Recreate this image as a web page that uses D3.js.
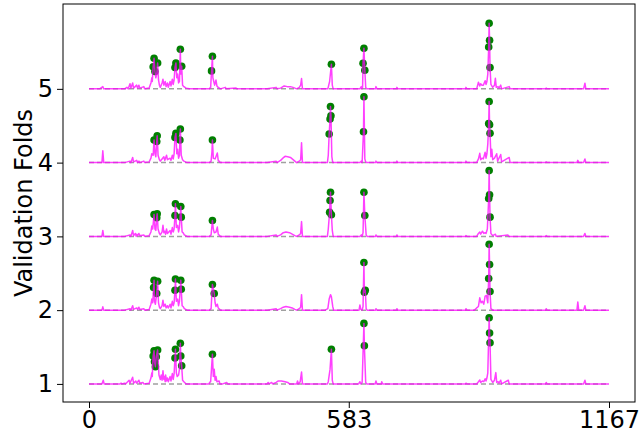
<!DOCTYPE html>
<html>
<head>
<meta charset="utf-8">
<script src="https://cdn.jsdelivr.net/npm/d3@7"></script>
<style>
  body { margin: 0; background: #fff; }
  text { font-family: "DejaVu Sans", sans-serif; }
</style>
</head>
<body>
<div id="chart"></div>
<script>
// fold numbers (y offsets) and x tick labels
const folds = [1, 2, 3, 4, 5];
const xTicks = [0, 583, 1167];
const xMax = 1167;

// line vertices per fold: [index, height above fold baseline]
const fold1Line = [[0,0],[29,0],[32,0.05],[34,0],[70,0],[72,0.01],[74,0],[80,0.01],[82,0],[90,0.05],[92,0.01],[98,0.09],[100,0.01],[105,0.04],[107,0.01],[112,0.05],[114,0.01],[121,0.02],[123,0],[135,0.01],[139,0.08],[141,0.15],[142,0.1],[157,0.12],[160,0.06],[162,0.12],[164,0.05],[166,0.18],[168,0.06],[169,0.1],[171,0.03],[172,0.12],[174,0.04],[176,0.08],[178,0.03],[182,0.1],[184,0.04],[187,0.14],[189,0.06],[191,0.14],[196,0.15],[198,0.1],[201,0.12],[203,0.2],[210,0.05],[213,0.03],[218,0],[269,0],[271,0.02],[273,0.03],[279,0.1],[281,0.2],[283,0.05],[285,0.1],[287,0.03],[292,0.04],[294,0],[300,0],[309,0.02],[311,0],[400,0],[402,0.02],[404,0],[410,0.02],[412,0],[420,0.02],[425,0.04],[432,0.04],[440,0.03],[446,0.02],[450,0],[466,0],[468,0.04],[470,0],[474,0.03],[477,0.16],[479,0],[535,0],[537,0.03],[541,0.2],[546,0.05],[548,0],[605,0],[608,0.03],[610,0],[613,0.02],[621,0.02],[623,0],[642,0],[644,0.04],[646,0],[656,0],[657,0.03],[659,0],[845,0],[846,0.01],[848,0],[870,0],[874,0.03],[877,0.054],[879,0.02],[883,0.04],[886,0.03],[889,0.07],[891,0.04],[893,0.08],[895,0.15],[902,0.06],[906,0.02],[910,0.05],[913,0.153],[915,0.02],[918,0.03],[920,0.01],[924,0.05],[926,0],[941,0.05],[943,0],[1025,0],[1026,0.02],[1028,0],[1110,0],[1113,0.05],[1115,0],[1167,0]];
const fold1Peaks = [[144,0.378],[146,0.45],[147,0.30],[149,0.234],[151,0.369],[154,0.46],[193,0.351],[194,0.469],[205,0.55],[206,0.378],[208,0.247],[277,0.401],[544,0.469],[617,0.82],[618,0.518],[898,0.896],[899,0.689],[900,0.558]];

const fold2Line = [[0,0],[29,0],[31,0.045],[33,0],[80,0],[92,0.02],[94,0],[98,0.06],[100,0.01],[107,0.03],[109,0.01],[112,0.04],[114,0.01],[123,0.02],[125,0],[135,0.01],[139,0.08],[141,0.15],[143,0.1],[147,0.12],[149,0.08],[156,0.1],[158,0.04],[160,0.02],[164,0.06],[166,0.135],[168,0.05],[171,0.08],[173,0.03],[176,0.06],[178,0.03],[182,0.08],[184,0.03],[187,0.12],[189,0.06],[191,0.1],[196,0.12],[199,0.15],[201,0.06],[203,0.12],[209,0.06],[211,0.05],[214,0.02],[220,0],[270,0],[274,0.02],[283,0.1],[285,0.05],[288,0.08],[290,0.03],[295,0],[400,0],[420,0.02],[422,0],[430,0.02],[436,0.04],[442,0.05],[450,0.04],[456,0.03],[462,0.01],[466,0],[472,0.02],[475,0.04],[477,0.21],[479,0],[530,0],[536,0.02],[539,0.15],[542,0.21],[544,0.18],[547,0.05],[549,0],[606,0],[608,0.07],[610,0.01],[613,0],[615,0.05],[622,0.02],[624,0],[643,0],[644,0.02],[646,0],[690,0],[691,0.02],[693,0],[845,0],[846,0.02],[848,0],[865,0],[870,0.03],[874,0.05],[877,0.167],[880,0.1],[883,0.12],[886,0.08],[889,0.19],[892,0.2],[895,0.1],[902,0.02],[906,0],[1025,0],[1026,0.02],[1028,0],[1095,0],[1097,0.11],[1099,0],[1110,0],[1113,0.06],[1115,0],[1167,0]];
const fold2Peaks = [[145,0.307],[146,0.405],[152,0.226],[154,0.392],[193,0.27],[194,0.423],[206,0.405],[207,0.284],[277,0.347],[281,0.226],[617,0.645],[618,0.243],[620,0.27],[897,0.428],[898,0.892],[899,0.618],[900,0.253]];

const fold3Line = [[0,0],[29,0],[31,0.08],[33,0],[80,0],[92,0.02],[94,0],[98,0.08],[100,0.01],[104,0.04],[106,0],[107,0.03],[109,0.01],[112,0.04],[114,0.01],[123,0.02],[125,0],[135,0.01],[139,0.06],[141,0.14],[143,0.1],[148,0.1],[150,0.08],[155,0.1],[158,0.04],[160,0.02],[164,0.06],[166,0.15],[168,0.05],[170,0.07],[172,0.03],[174,0.1],[176,0.04],[182,0.08],[184,0.03],[187,0.12],[189,0.06],[191,0.1],[196,0.12],[199,0.15],[201,0.06],[203,0.12],[209,0.06],[211,0.05],[214,0.02],[220,0],[270,0],[274,0.02],[279,0.1],[281,0.05],[285,0.06],[288,0.126],[290,0.03],[295,0],[400,0],[420,0.02],[422,0],[430,0.02],[436,0.05],[442,0.06],[450,0.05],[456,0.03],[462,0.01],[466,0],[472,0.02],[475,0.04],[477,0.2],[479,0],[535,0],[537,0.1],[546,0.08],[548,0],[608,0],[611,0.02],[613,0],[615,0.05],[622,0.02],[624,0],[643,0],[644,0.02],[646,0],[690,0],[691,0.02],[693,0],[845,0],[846,0.01],[848,0],[870,0],[874,0.04],[877,0.06],[879,0.03],[883,0.07],[886,0.04],[889,0.05],[891,0.04],[894,0.1],[902,0.04],[906,0.01],[912,0.03],[914,0],[940,0.02],[942,0],[1025,0],[1026,0.01],[1028,0],[1110,0],[1113,0.04],[1115,0],[1167,0]];
const fold3Peaks = [[146,0.297],[152,0.253],[153,0.307],[193,0.284],[194,0.442],[206,0.405],[207,0.261],[277,0.216],[540,0.328],[541,0.486],[542,0.599],[544,0.293],[617,0.599],[619,0.284],[897,0.514],[898,0.892],[899,0.564],[900,0.261]];

const fold4Line = [[0,0],[29,0],[31,0.16],[33,0],[80,0],[92,0.02],[94,0],[98,0.07],[100,0.01],[107,0.03],[109,0],[112,0.02],[114,0],[123,0.02],[125,0],[135,0.01],[139,0.06],[141,0.12],[144,0.1],[148,0.12],[150,0.08],[155,0.1],[158,0.04],[160,0.02],[164,0.05],[168,0.08],[170,0.03],[174,0.1],[176,0.04],[182,0.06],[184,0.03],[187,0.1],[189,0.05],[191,0.12],[197,0.12],[199,0.18],[201,0.06],[203,0.1],[207,0.1],[210,0.04],[213,0.02],[220,0],[270,0],[274,0.02],[276,0.15],[279,0.06],[283,0.05],[288,0.13],[290,0.03],[295,0],[400,0],[420,0.02],[422,0],[430,0.03],[435,0.06],[440,0.085],[446,0.08],[452,0.07],[458,0.04],[462,0.02],[466,0],[472,0.02],[475,0.04],[477,0.27],[479,0],[535,0],[537,0.1],[545,0.08],[547,0],[608,0],[611,0.02],[613,0],[619,0.05],[621,0.01],[623,0],[643,0],[644,0.02],[646,0],[690,0],[691,0.02],[693,0],[845,0],[846,0.02],[848,0],[870,0],[874,0.05],[877,0.126],[879,0.04],[882,0.06],[885,0.05],[889,0.14],[891,0.06],[893,0.12],[895,0.25],[902,0.08],[904,0.18],[906,0.04],[910,0.06],[915,0.12],[917,0.02],[924,0.11],[926,0.01],[943,0.07],[945,0],[1025,0],[1026,0.01],[1028,0],[1095,0],[1097,0.03],[1099,0],[1110,0],[1113,0.05],[1115,0],[1167,0]];
const fold4Peaks = [[146,0.306],[152,0.287],[153,0.365],[193,0.342],[195,0.396],[204,0.306],[205,0.455],[277,0.306],[539,0.388],[541,0.59],[542,0.761],[543,0.635],[616,0.419],[617,0.892],[897,0.531],[898,0.828],[899,0.514],[900,0.397]];

const fold5Line = [[0,0],[24,0],[31,0.03],[33,0],[80,0],[85,0.02],[88,0],[92,0.07],[94,0.01],[98,0.08],[100,0.01],[107,0.05],[109,0.01],[112,0.05],[114,0.01],[123,0.03],[125,0],[135,0.01],[139,0.08],[141,0.15],[142,0.1],[150,0.15],[152,0.2],[156,0.12],[158,0.05],[160,0.02],[164,0.08],[166,0.13],[168,0.05],[171,0.1],[173,0.03],[176,0.08],[178,0.02],[182,0.1],[184,0.04],[187,0.13],[189,0.06],[191,0.12],[197,0.15],[199,0.2],[201,0.08],[203,0.1],[206,0.2],[210,0.05],[213,0.03],[218,0.01],[225,0],[270,0],[273,0.02],[278,0.15],[280,0.1],[282,0.05],[285,0.12],[287,0.04],[290,0.02],[295,0],[306,0.02],[308,0],[330,0.01],[332,0],[400,0],[420,0.02],[422,0],[430,0.01],[438,0.04],[445,0.03],[452,0.03],[458,0.02],[462,0.01],[466,0],[472,0.02],[475,0.05],[477,0.14],[479,0],[536,0],[540,0.1],[546,0.05],[548,0],[608,0],[611,0.03],[613,0],[614,0.02],[621,0.02],[623,0],[643,0],[644,0.03],[646,0],[690,0],[691,0.02],[693,0],[845,0],[846,0.02],[848,0],[870,0],[874,0.09],[877,0.04],[879,0.07],[882,0.05],[885,0.05],[889,0.11],[891,0.06],[893,0.1],[895,0.2],[902,0.06],[906,0.02],[910,0.05],[912,0.144],[914,0.02],[918,0.03],[920,0.01],[924,0.05],[926,0],[943,0.03],[945,0],[1025,0],[1026,0.01],[1028,0],[1110,0],[1113,0.077],[1115,0],[1167,0]];
const fold5Peaks = [[144,0.30],[146,0.415],[148,0.235],[154,0.35],[193,0.29],[195,0.35],[205,0.536],[208,0.307],[275,0.243],[277,0.442],[544,0.334],[615,0.347],[617,0.55],[619,0.253],[897,0.568],[898,0.888],[899,0.658],[900,0.288]];

const foldLines = [fold1Line, fold2Line, fold3Line, fold4Line, fold5Line];
const foldPeaks = [fold1Peaks, fold2Peaks, fold3Peaks, fold4Peaks, fold5Peaks];

const width = 640, height = 433;
const margin = {top: 4, right: 5, bottom: 31, left: 63};

const svg = d3.select('#chart').append('svg')
    .attr('width', width)
    .attr('height', height);

// matplotlib style 5% padding on both axes
const xPad = xMax * 0.05;
const x = d3.scaleLinear()
    .domain([-xPad, xMax + xPad])
    .range([margin.left, width - margin.right]);

const yTop = 1 + d3.max(foldPeaks[4], d => d[1]) + 4;
const yLow = 1, yHigh = 5.905;
const yPad = (yHigh - yLow) * 0.05;
const y = d3.scaleLinear()
    .domain([yLow - yPad, yHigh + yPad])
    .range([height - margin.bottom, margin.top]);

const plot = svg.append('g');

// dashed baselines
plot.selectAll('.base')
    .data(folds)
  .enter().append('line')
    .attr('class', 'base')
    .attr('x1', x(0)).attr('x2', x(xMax))
    .attr('y1', d => y(d)).attr('y2', d => y(d))
    .attr('stroke', '#a0a0a0')
    .attr('stroke-width', 1.5)
    .attr('stroke-dasharray', '5,3');

// green peak markers
folds.forEach((f, i) => {
  plot.append('g').selectAll('circle')
      .data(foldPeaks[i])
    .enter().append('circle')
      .attr('cx', d => x(d[0]))
      .attr('cy', d => y(f + d[1]))
      .attr('r', 3.8)
      .attr('fill', '#007f00');
});

// magenta signal lines, passing through the peaks too
const line = d3.line()
    .x(d => x(d[0]))
    .y(d => y(d[2] + d[1]));

folds.forEach((f, i) => {
  const pts = foldLines[i].concat(foldPeaks[i])
      .map(d => [d[0], d[1], f])
      .sort((a, b) => a[0] - b[0]);
  plot.append('path')
      .datum(pts)
      .attr('fill', 'none')
      .attr('stroke', '#ff00ff')
      .attr('stroke-opacity', 0.75)
      .attr('stroke-width', 1.5)
      .attr('stroke-linejoin', 'round')
      .attr('d', line);
});

// frame
svg.append('rect')
    .attr('x', margin.left).attr('y', margin.top)
    .attr('width', width - margin.left - margin.right)
    .attr('height', height - margin.top - margin.bottom)
    .attr('fill', 'none')
    .attr('stroke', '#000')
    .attr('stroke-width', 1);

// axes
const xAxis = svg.append('g')
    .attr('transform', 'translate(0,' + (height - margin.bottom) + ')')
    .call(d3.axisBottom(x).tickValues(xTicks).tickSize(6).tickPadding(3).tickFormat(d3.format('d')));
const yAxis = svg.append('g')
    .attr('transform', 'translate(' + margin.left + ',0)')
    .call(d3.axisLeft(y).tickValues(folds).tickSize(6).tickPadding(4).tickFormat(d3.format('d')));

[xAxis, yAxis].forEach(a => {
  a.select('.domain').remove();
  a.selectAll('.tick line').attr('stroke', '#000').attr('stroke-width', 1);
  a.selectAll('.tick text')
      .attr('fill', '#000')
      .style('font-size', '24px')
      .style('font-family', '"DejaVu Sans", sans-serif');
});

svg.append('text')
    .attr('transform', 'translate(32,' + ((margin.top + height - margin.bottom) / 2) + ') rotate(-90)')
    .attr('text-anchor', 'middle')
    .style('font-size', '24px')
    .text('Validation Folds');
</script>
</body>
</html>
